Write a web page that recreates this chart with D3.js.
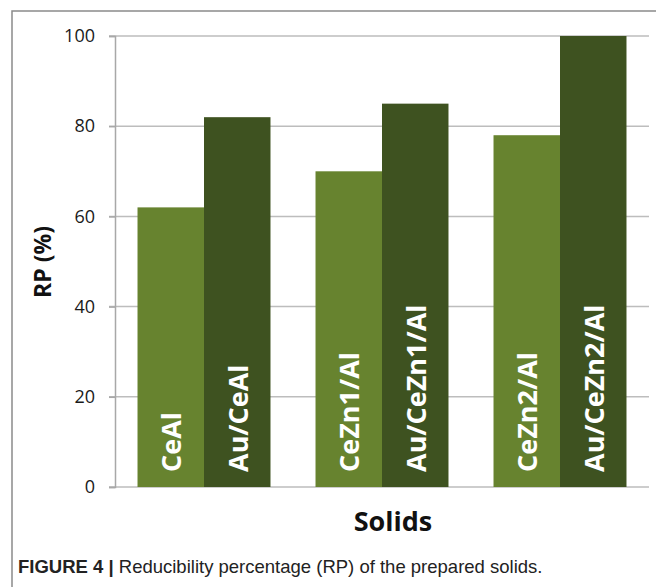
<!DOCTYPE html>
<html>
<head>
<meta charset="utf-8">
<script src="https://cdn.jsdelivr.net/npm/d3@7"></script>
<style>
  body { margin: 0; background: #fff; }
  svg { display: block; }
</style>
</head>
<body>
<div id="container"></div>
<script>
/* CONSTANTS AND DATA */
const width = 656,
      height = 587;

const groups = ["CeAl", "CeZn1/Al", "CeZn2/Al"];
const series = ["bare", "gold"];
const labels = [["CeAl", "Au/CeAl"], ["CeZn1/Al", "Au/CeZn1/Al"], ["CeZn2/Al", "Au/CeZn2/Al"]];
const bareValues = [62, 70, 78];
const goldValues = [82, 85, 100];
const yTicks = [0, 20, 40, 60, 80, 100];

const colors = { bare: "#67832f", gold: "#3e5220" };

// table built from the arrays above
const rows = groups.map((g, i) => ({
    group: g,
    bars: [
        { key: "bare", label: labels[i][0], value: bareValues[i] },
        { key: "gold", label: labels[i][1], value: goldValues[i] }
    ]
}));

const svg = d3.select("#container").append("svg")
    .attr("width", width)
    .attr("height", height);

// figure frame
svg.append("rect")
    .attr("x", 12).attr("y", 11)
    .attr("width", 660).attr("height", 600)
    .attr("fill", "none")
    .attr("stroke", "#8a8a8a")
    .attr("stroke-width", 1.5);

/* SCALES */
const x0 = d3.scaleBand()
    .domain(groups)
    .range([115, 649])
    .paddingInner(0.253)
    .paddingOuter(0.1265);

const x1 = d3.scaleBand()
    .domain(series)
    .range([0, x0.bandwidth()]);

const y = d3.scaleLinear()
    .domain([0, 100])
    .range([487, 36]);

// gridlines
svg.append("g")
    .selectAll("line")
    .data(yTicks)
    .join("line")
    .attr("x1", 109).attr("x2", 649)
    .attr("y1", d => y(d)).attr("y2", d => y(d))
    .attr("stroke", "#bdbdbd")
    .attr("stroke-width", 1.5);

// y axis
const yAxis = svg.append("g")
    .attr("transform", "translate(115,0)")
    .call(d3.axisLeft(y).tickValues(yTicks).tickSize(6).tickPadding(14));
yAxis.select(".domain").attr("stroke", "#a8a8a8").attr("stroke-width", 1.5);
yAxis.selectAll(".tick line").attr("stroke", "#a8a8a8").attr("stroke-width", 1.5);
yAxis.selectAll(".tick text")
    .attr("font-family", "Open Sans")
    .attr("font-size", 18)
    .attr("fill", "#1a1a1a");

/* BARS */
const grp = svg.append("g")
    .selectAll("g")
    .data(rows)
    .join("g")
    .attr("transform", d => `translate(${x0(d.group)},0)`);

grp.selectAll("rect")
    .data(d => d.bars)
    .join("rect")
    .attr("x", d => x1(d.key))
    .attr("y", d => y(d.value))
    .attr("width", x1.bandwidth())
    .attr("height", d => y(0) - y(d.value))
    .attr("fill", d => colors[d.key]);

// labels inside bars
grp.selectAll("text")
    .data(d => d.bars)
    .join("text")
    .attr("transform", d => `translate(${x1(d.key) + x1.bandwidth() / 2},${y(0) - 15}) rotate(-90)`)
    .attr("dominant-baseline", "central")
    .attr("font-family", "Open Sans")
    .attr("font-weight", "bold")
    .attr("font-size", 27)
    .attr("fill", "#fff")
    .text(d => d.label);

/* AXIS TITLES */
svg.append("text")
    .attr("transform", "translate(42,262) rotate(-90)")
    .attr("text-anchor", "middle")
    .attr("dominant-baseline", "central")
    .attr("font-family", "Open Sans")
    .attr("font-weight", "bold")
    .attr("font-size", 23)
    .attr("fill", "#111")
    .text("RP (%)");

svg.append("text")
    .attr("x", 393).attr("y", 531)
    .attr("text-anchor", "middle")
    .attr("font-family", "Open Sans")
    .attr("font-weight", "bold")
    .attr("font-size", 27)
    .attr("fill", "#111")
    .text("Solids");

// caption
const cap = svg.append("text")
    .attr("x", 18).attr("y", 573)
    .attr("font-family", "Liberation Sans")
    .attr("font-size", 18.5)
    .attr("fill", "#222");
cap.append("tspan").attr("font-weight", "bold").text("FIGURE 4 | ");
cap.append("tspan").text("Reducibility percentage (RP) of the prepared solids.");
</script>
</body>
</html>
